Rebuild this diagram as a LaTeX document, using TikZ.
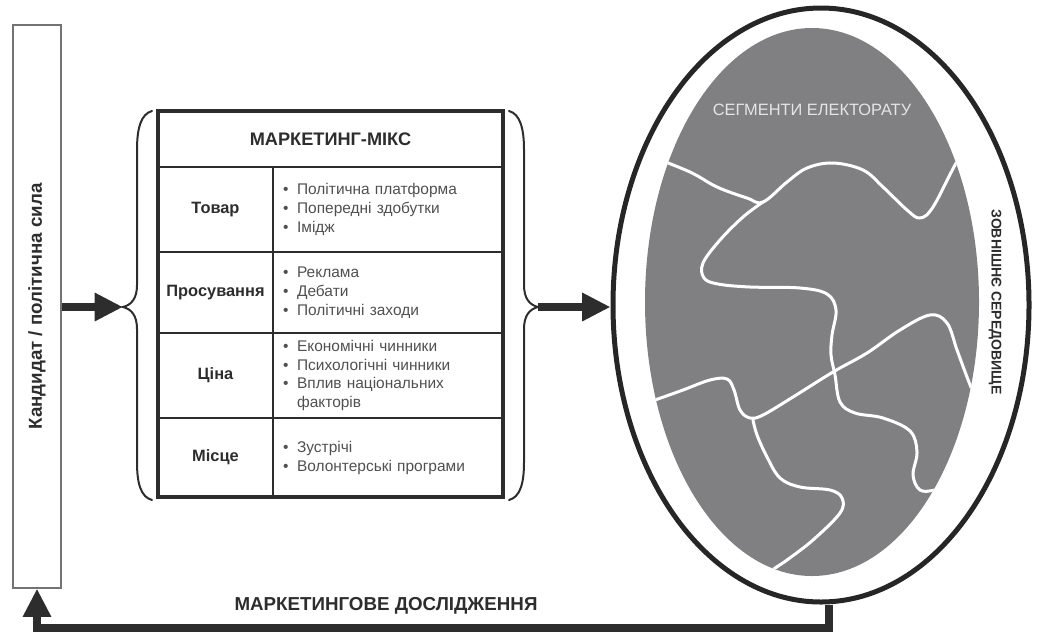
\documentclass[tikz,border=0pt]{standalone}
\usepackage{fontspec}
\setmainfont{Liberation Sans}
\usepackage{tikz}
\usepackage{xcolor}
\usetikzlibrary{arrows.meta,shapes.geometric,positioning}

\definecolor{segfill}{RGB}{128,128,131}
\definecolor{ink}{RGB}{45,45,45}
\definecolor{softink}{RGB}{80,80,80}

\newcommand{\bul}{\textbullet\hspace{2.6mm}}

\begin{document}
\begin{tikzpicture}[
  x=0.3mm, y=-0.3mm,
  cell/.style={draw=ink, line width=0.6mm, inner sep=0pt, outer sep=0pt},
  headcell/.style={cell, minimum width=34.5mm, font=\fontsize{14}{17}\selectfont\bfseries, text=ink},
  itemcell/.style={cell, minimum width=69mm, text width=63mm, inner xsep=3mm, align=left, font=\fontsize{13.2}{16.2}\selectfont, text=softink},
  brace/.style={draw=ink, line width=0.6mm, line cap=round},
  flow/.style={draw=ink, line width=2.2mm, -{Triangle[length=8.5mm, width=8mm]}},
  seam/.style={draw=white, line width=0.9mm, line cap=round, line join=round},
  caps/.style={font=\fontsize{16}{19}\selectfont\bfseries, text=ink},
]
\useasboundingbox (0,0) rectangle (1041,632);

% Candidate
\node[draw=black!55, line width=0.35mm, minimum width=14.4mm, minimum height=168.9mm, inner sep=0pt] (cand) at (37,306.5)
  {\rotatebox{90}{\fontsize{16}{19}\selectfont\bfseries\color{ink}Кандидат / політична сила}};

% Marketing mix table
\node[cell, minimum width=103.5mm, minimum height=16.8mm, font=\fontsize{15.5}{18}\selectfont\bfseries, text=ink] (mix) at (330.5,139) {МАРКЕТИНГ-МІКС};
\node[headcell, minimum height=25.5mm] (product) at (215.5,209.5) {Товар};
\node[itemcell, minimum height=25.5mm] (product-items) at (388,209.5)
  {\bul Політична платформа\\ \bul Попередні здобутки\\ \bul Імідж};
\node[headcell, minimum height=24.3mm] (promo) at (215.5,292.5) {Просування};
\node[itemcell, minimum height=24.3mm] (promo-items) at (388,292.5)
  {\bul Реклама\\ \bul Дебати\\ \bul Політичні заходи};
\node[headcell, minimum height=25.5mm] (price) at (215.5,375.5) {Ціна};
\node[itemcell, minimum height=25.5mm] (price-items) at (388,375.5)
  {\bul Економічні чинники\\ \bul Психологічні чинники\\ \bul Вплив національних\\ \hphantom{\bul}факторів};
\node[headcell, minimum height=23.7mm] (place) at (215.5,457.5) {Місце};
\node[itemcell, minimum height=23.7mm] (place-items) at (388,457.5)
  {\bul Зустрічі\\ \bul Волонтерські програми};
\draw[draw=ink, line width=1.2mm] (mix.north west) rectangle (place-items.south east);

% Braces
\coordinate (lbrace) at (123,307);
\coordinate (rbrace) at (538,307);
\draw[brace] (152,111) .. controls (141,114) and (137,128) .. (137,150) -- (137,285)
  .. controls (137,299) and (131,305) .. (lbrace) .. controls (131,309) and (137,315) .. (137,329)
  -- (137,462) .. controls (137,484) and (141,497) .. (152,500);
\draw[brace] (509,111) .. controls (520,114) and (524,128) .. (524,150) -- (524,285)
  .. controls (524,299) and (530,305) .. (rbrace) .. controls (530,309) and (524,315) .. (524,329)
  -- (524,462) .. controls (524,484) and (520,497) .. (509,500);

% Electorate
\node[ellipse, draw=black!85, line width=1.5mm, minimum width=124.8mm, minimum height=178.2mm, inner sep=0pt] (env) at (821,305) {};
\node[ellipse, fill=segfill, minimum width=100.2mm, minimum height=164.4mm, inner sep=0pt] (segs) at (812,302) {};
\begin{scope}
\clip (segs.center) ellipse [x radius=50.1mm, y radius=82.2mm];
\draw[seam] plot[smooth, tension=0.6] coordinates {(650,156) (690,172) (717,187) (747,198) (763,202) (787,182) (807,168) (833,163) (863,170) (883,187) (907,210) (920,218) (933,207) (955,165) (968,145)};
\draw[seam] plot[smooth, tension=0.6] coordinates {(763,202) (743,217) (720,240) (703,263) (704,278) (718,284) (750,287) (800,288) (827,294) (836,310) (832,335) (831,355) (835,375) (840,402) (855,413) (883,418) (910,431) (917,452) (913,475) (920,490) (935,490) (955,484)};
\draw[seam] plot[smooth, tension=0.6] coordinates {(640,405) (655,400) (683,390) (710,380) (727,379) (734,390) (740,410) (750,418) (763,415) (793,397) (833,372) (867,353) (900,330) (930,315) (947,323) (957,350) (967,377) (978,405)};
\draw[seam] plot[smooth, tension=0.6] coordinates {(753,420) (757,435) (767,457) (780,478) (800,487) (830,490) (842,498) (840,513) (813,540) (787,560) (770,572) (750,592)};
\end{scope}
\node[font=\fontsize{14}{16}\selectfont, text=white!90!black] (seglbl) at (812,110) {СЕГМЕНТИ ЕЛЕКТОРАТУ};
\node[font=\fontsize{12}{14}\selectfont\bfseries, text=ink, rotate=-90] (envlbl) at (995,302) {ЗОВНІШНЄ СЕРЕДОВИЩЕ};

% Connectors
\draw[flow] (cand.east |- lbrace) -- (lbrace);
\draw[flow] (rbrace) -- (rbrace -| env.west);
\coordinate (fbturn) at (37,628);
\draw[flow] ([xshift=2.4mm]env.south) |- (fbturn) -- (cand.south);
\node[caps] (research) at (386,606) {МАРКЕТИНГОВЕ ДОСЛІДЖЕННЯ};
\end{tikzpicture}
\end{document}
